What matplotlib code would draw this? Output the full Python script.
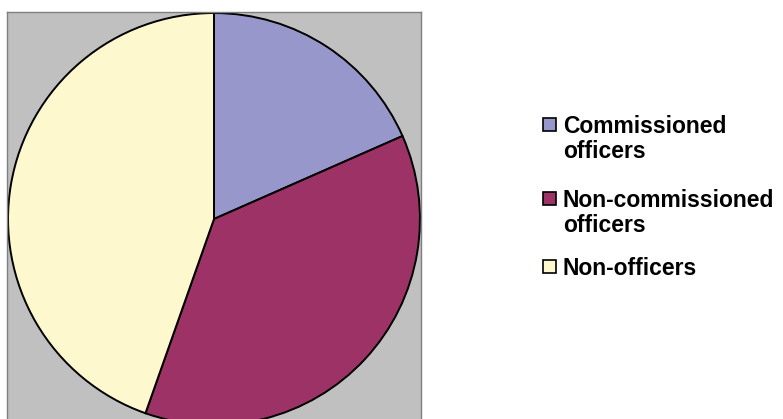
import matplotlib
matplotlib.use("Agg")
import matplotlib.pyplot as plt
from matplotlib.patches import Rectangle

# data
categories = ["Commissioned\nofficers", "Non-commissioned\nofficers", "Non-officers"]
shares = [18.4, 37.0, 44.6]
colors = ["#9797CB", "#9C3266", "#FEF8CF"]

plt.rcParams['font.family'] = ['Liberation Sans', 'DejaVu Sans']

W, H = 783, 419
fig = plt.figure(figsize=(W / 100, H / 100), dpi=100)
fig.patch.set_facecolor("white")

# grey plot area, square, top-left at (7, 12) px
ax = fig.add_axes([7 / W, (H - 426) / H, 414 / W, 414 / H])
ax.pie(shares, colors=colors, startangle=90, counterclock=False, radius=0.995,
       wedgeprops=dict(edgecolor="black", linewidth=1.4))
ax.set_xlim(-1, 1)
ax.set_ylim(-1, 1)
ax.set_aspect("auto")
ax.set_frame_on(True)
ax.set_facecolor("#C0C0C0")
ax.set_xticks([])
ax.set_yticks([])
for s in ax.spines.values():
    s.set_visible(True)
    s.set_color("#7F7F7F")
    s.set_linewidth(1.0)

# legend, drawn by hand so the box sits next to the first line
baselines = [133, 207, 275]
fs = 16.5
for lab, col, yb in zip(categories, colors, baselines):
    fig.patches.append(Rectangle((543 / W, (H - yb + 2) / H), 13 / W, 13 / H,
                                 transform=fig.transFigure, facecolor=col,
                                 edgecolor="black", linewidth=1.2))
    first, *rest = lab.split("\n")
    fig.text(563 / W, (H - yb) / H, first, fontsize=fs, fontweight="bold",
             va="baseline", ha="left", color="black")
    for i, line in enumerate(rest):
        fig.text(563 / W, (H - yb - 25 * (i + 1)) / H, line, fontsize=fs,
                 fontweight="bold", va="baseline", ha="left", color="black")

fig.savefig("out.png", dpi=100)
